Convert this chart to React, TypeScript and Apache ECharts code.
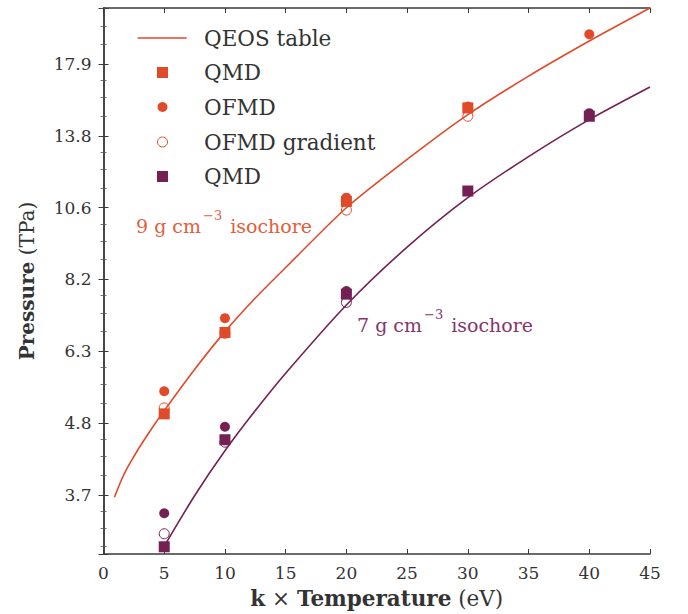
import React, { useEffect, useRef } from "react";
import * as echarts from "echarts";

// QEOS table curves (temperature in eV, pressure in TPa)
const T_QEOS9 = [0.9, 1.5, 2, 2.5, 3, 4, 5, 7.5, 10, 12.5, 15, 20, 25, 30, 35, 40, 45];
const P_QEOS9 = [3.68, 3.93, 4.11, 4.27, 4.43, 4.74, 5.05, 5.87, 6.74, 7.62, 8.52, 10.6, 12.65, 14.9, 17.15, 19.5, 22.0];
const T_QEOS7 = [5.1, 7.5, 10, 12.5, 15, 20, 25, 30, 35, 40, 45];
const P_QEOS7 = [3.1, 3.7, 4.36, 5.05, 5.79, 7.43, 9.18, 11.0, 12.78, 14.63, 16.48];

// Simulation temperatures
const T_SIM = [5, 10, 20, 30, 40];
// 9 g/cc
const QMD9 = [4.99, 6.72, 10.85, 15.27, null];
const OFMD9 = [5.42, 7.08, 11.0, 15.35, 19.99];
const OFMDG9 = [5.1, 6.7, 10.51, 14.81, null];
// 7 g/cc
const QMD7 = [3.07, 4.54, 7.73, 11.27, 14.81];
const OFMD7 = [3.47, 4.76, 7.82, null, 14.98];
const OFMDG7 = [3.22, 4.5, 7.5, null, null];

const LEGEND_LABELS = ["QEOS table", "QMD", "OFMD", "OFMD gradient", "QMD"];

const X_MIN = 0;
const X_MAX = 45;
const X_STEP = 5;
const Y_MIN = 2.99;
const Y_MAX = 22.0;
const LOG_BASE = 1.3;

const ORANGE = "#E04A28";
const PURPLE = "#742055";
const FONT = "DejaVu Serif";

const zip = (xs: number[], ys: (number | null)[]) =>
  xs.map((x, i) => [x, ys[i]]).filter((p) => p[1] != null);

export default function App() {
  const ref = useRef<HTMLDivElement>(null);
  useEffect(() => {
    if (!ref.current) return;
    const chart = echarts.init(ref.current, null, { renderer: "svg" });
    const isMajor = (v: number) => {
      const l = Math.log(v) / Math.log(LOG_BASE);
      return Math.abs(l - Math.round(l)) < 0.01;
    };
    const yAxisBase = {
      type: "log",
      logBase: LOG_BASE,
      min: Y_MIN,
      max: Y_MAX,
      splitLine: { show: false },
      axisLine: { show: true, lineStyle: { color: "#3a3a3a", width: 1.5 } },
      axisTick: { show: true, inside: true, length: 5, lineStyle: { color: "#3a3a3a", width: 1 } },
      minorTick: { show: true, splitNumber: 4, length: 3, lineStyle: { color: "#555", width: 0.8 } },
    };
    const xAxisBase = {
      type: "value",
      min: X_MIN,
      max: X_MAX,
      interval: X_STEP,
      splitLine: { show: false },
      axisLine: { show: true, onZero: false, lineStyle: { color: "#3a3a3a", width: 1.5 } },
      axisTick: { show: true, inside: true, length: 5, lineStyle: { color: "#3a3a3a", width: 1 } },
    };

    // legend drawn with graphic elements
    const rowY = [38, 72.5, 107, 142, 176.5];
    const iconX = 162.5;
    const textX = 204;
    const legendText = (i: number) => ({
      type: "text",
      x: textX,
      y: rowY[i],
      style: {
        text: LEGEND_LABELS[i],
        fontFamily: FONT,
        fontSize: 21.5,
        fill: "#333",
        align: "left",
        verticalAlign: "middle",
      },
    });
    const legendGraphics: any[] = [
      { type: "line", shape: { x1: 137.7, y1: rowY[0], x2: 186.7, y2: rowY[0] }, style: { stroke: ORANGE, lineWidth: 1.6 } },
      { type: "rect", shape: { x: iconX - 5.5, y: rowY[1] - 5.5, width: 11, height: 11 }, style: { fill: ORANGE } },
      { type: "circle", shape: { cx: iconX, cy: rowY[2], r: 5 }, style: { fill: ORANGE } },
      { type: "circle", shape: { cx: iconX, cy: rowY[3], r: 5 }, style: { fill: "none", stroke: ORANGE, lineWidth: 1 } },
      { type: "rect", shape: { x: iconX - 5.5, y: rowY[4] - 5.5, width: 11, height: 11 }, style: { fill: PURPLE } },
      ...LEGEND_LABELS.map((_, i) => legendText(i)),
    ];

    const option: any = {
      animation: false,
      backgroundColor: "#fff",
      grid: { left: 103.5, right: 38, top: 8, bottom: 58 },
      xAxis: [
        {
          ...xAxisBase,
          position: "bottom",
          name: "{b|k} × {b|Temperature} (eV)",
          nameLocation: "middle",
          nameGap: 33,
          nameTextStyle: {
            fontFamily: FONT,
            fontSize: 21.5,
            color: "#333",
            rich: { b: { fontFamily: FONT, fontSize: 21.5, fontWeight: "bold", color: "#333" } },
          },
          axisLabel: { fontFamily: FONT, fontSize: 17, color: "#333", margin: 10 },
        },
        { ...xAxisBase, position: "top", axisLabel: { show: false } },
      ],
      yAxis: [
        {
          ...yAxisBase,
          position: "left",
          name: "{b|Pressure} (TPa)",
          nameLocation: "middle",
          nameGap: 67,
          nameTextStyle: {
            fontFamily: FONT,
            fontSize: 20,
            color: "#333",
            rich: { b: { fontFamily: FONT, fontSize: 20, fontWeight: "bold", color: "#333" } },
          },
          axisLabel: {
            fontFamily: FONT,
            fontSize: 17,
            color: "#333",
            margin: 12,
            showMinLabel: false,
            showMaxLabel: false,
            formatter: (v: number) => (isMajor(v) ? v.toFixed(1) : ""),
          },
        },
        { ...yAxisBase, position: "right", axisLabel: { show: false } },
      ],
      graphic: [
        ...legendGraphics,
        {
          type: "text",
          left: 136,
          top: 209,
          style: {
            text: "{n|9 g cm}{s|−3}{n| isochore}",
            rich: {
              n: { fontFamily: FONT, fontSize: 19, fill: "#E35E3C", lineHeight: 26, verticalAlign: "bottom" },
              s: { fontFamily: FONT, fontSize: 13, fill: "#E35E3C", lineHeight: 26, verticalAlign: "top", padding: [0, 2, 10, 2] },
            },
          },
        },
        {
          type: "text",
          left: 357,
          top: 308,
          style: {
            text: "{n|7 g cm}{s|−3}{n| isochore}",
            rich: {
              n: { fontFamily: FONT, fontSize: 19, fill: "#86366A", lineHeight: 26, verticalAlign: "bottom" },
              s: { fontFamily: FONT, fontSize: 13, fill: "#86366A", lineHeight: 26, verticalAlign: "top", padding: [0, 2, 10, 2] },
            },
          },
        },
      ],
      series: [
        {
          name: "QEOS table",
          type: "line",
          data: zip(T_QEOS9, P_QEOS9),
          showSymbol: false,
          symbol: "none",
          smooth: 0.25,
          lineStyle: { color: ORANGE, width: 1.6 },
          itemStyle: { color: ORANGE },
          z: 2,
        },
        {
          name: "QEOS table 7",
          type: "line",
          data: zip(T_QEOS7, P_QEOS7),
          showSymbol: false,
          symbol: "none",
          smooth: 0.25,
          lineStyle: { color: PURPLE, width: 1.6 },
          itemStyle: { color: PURPLE },
          z: 2,
        },
        {
          name: "QMD",
          type: "scatter",
          symbol: "rect",
          symbolSize: 11,
          data: zip(T_SIM, QMD9),
          itemStyle: { color: ORANGE, opacity: 1 },
          z: 3,
        },
        {
          name: "OFMD",
          type: "scatter",
          symbol: "circle",
          symbolSize: 10,
          data: zip(T_SIM, OFMD9),
          itemStyle: { color: ORANGE, opacity: 1 },
          z: 3,
        },
        {
          name: "OFMD gradient",
          type: "scatter",
          symbol: "circle",
          symbolSize: 10,
          data: zip(T_SIM, OFMDG9),
          itemStyle: { color: "rgba(255,255,255,0)", borderColor: ORANGE, borderWidth: 1, opacity: 1 },
          z: 4,
        },
        {
          name: "QMD 7",
          type: "scatter",
          symbol: "rect",
          symbolSize: 11,
          data: zip(T_SIM, QMD7),
          itemStyle: { color: PURPLE, opacity: 1 },
          z: 3,
        },
        {
          name: "OFMD 7",
          type: "scatter",
          symbol: "circle",
          symbolSize: 10,
          data: zip(T_SIM, OFMD7),
          itemStyle: { color: PURPLE, opacity: 1 },
          z: 3,
        },
        {
          name: "OFMD gradient 7",
          type: "scatter",
          symbol: "circle",
          symbolSize: 10,
          data: zip(T_SIM, OFMDG7),
          itemStyle: { color: "rgba(255,255,255,0)", borderColor: PURPLE, borderWidth: 1, opacity: 1 },
          z: 4,
        },
      ],
    };
    chart.setOption(option);
    return () => chart.dispose();
  }, []);
  return <div ref={ref} style={{ position: "absolute", left: 0, top: 0, width: 688, height: 614 }} />;
}
